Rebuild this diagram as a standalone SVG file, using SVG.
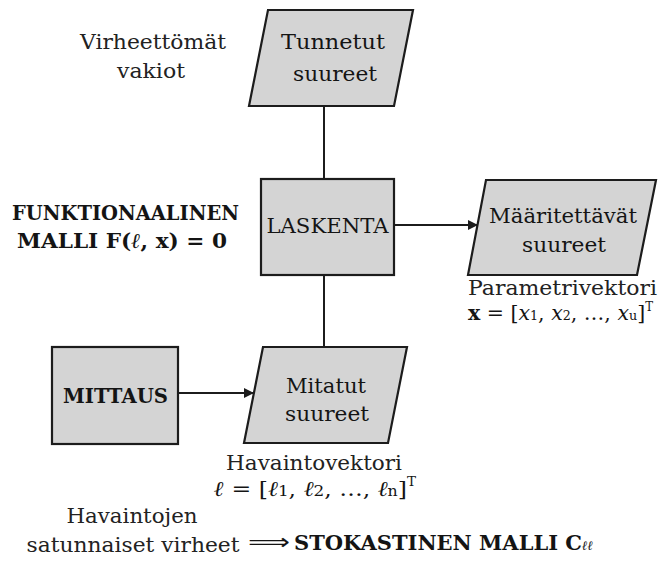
<svg xmlns="http://www.w3.org/2000/svg" width="660" height="565" viewBox="0 0 660 565">
<defs>
<style>
.shape{fill:#d4d4d4;stroke:#1c1c1c;stroke-width:2.2}
.conn{stroke:#1c1c1c;stroke-width:2;fill:none}
text{font-family:"DejaVu Serif","Liberation Serif",serif;font-size:21px;fill:#141414}
.c{text-anchor:middle}
.b{font-weight:bold}
.lab{fill:#222222}
</style>
<marker id="ah" viewBox="0 0 10 10" refX="10" refY="5" markerWidth="10" markerHeight="10" markerUnits="userSpaceOnUse" orient="auto">
<path d="M0,0 L10,5 L0,10 z" fill="#1c1c1c"/>
</marker>
</defs>
<rect width="660" height="565" fill="#ffffff"/>

<g id="connectors">
<line class="conn" x1="324" y1="106" x2="324" y2="179"/>
<line class="conn" x1="324" y1="275" x2="324" y2="347"/>
<line class="conn" x1="394" y1="225" x2="478" y2="225" marker-end="url(#ah)"/>
<line class="conn" x1="178" y1="393" x2="254" y2="393" marker-end="url(#ah)"/>
</g>

<g id="tunnetut">
<polygon class="shape" points="268,10 413,10 394,106 249,106"/>
<text class="c" x="333" y="49" textLength="104" lengthAdjust="spacingAndGlyphs">Tunnetut</text>
<text class="c" x="335" y="81" textLength="84" lengthAdjust="spacingAndGlyphs">suureet</text>
</g>

<g id="laskenta">
<rect class="shape" x="261" y="179" width="133" height="96"/>
<text class="c" x="327.5" y="233" textLength="122" lengthAdjust="spacingAndGlyphs">LASKENTA</text>
</g>

<g id="maaritettavat">
<polygon class="shape" points="486,180 656,180 637,275 468,275"/>
<text class="c" x="563" y="223" textLength="148" lengthAdjust="spacingAndGlyphs">Määritettävät</text>
<text class="c" x="564" y="252" textLength="84" lengthAdjust="spacingAndGlyphs">suureet</text>
</g>

<g id="mittaus">
<rect class="shape" x="52" y="347" width="126" height="97"/>
<text class="c b" x="115.5" y="403" textLength="105" lengthAdjust="spacingAndGlyphs">MITTAUS</text>
</g>

<g id="mitatut">
<polygon class="shape" points="263,347 407,347 388,443 244,443"/>
<text class="c" x="326" y="393" textLength="80" lengthAdjust="spacingAndGlyphs">Mitatut</text>
<text class="c" x="327" y="421" textLength="84" lengthAdjust="spacingAndGlyphs">suureet</text>
</g>

<g id="labels">
<text class="c lab" x="153" y="49" textLength="146" lengthAdjust="spacingAndGlyphs">Virheettömät</text>
<text class="c lab" x="151" y="78" textLength="68" lengthAdjust="spacingAndGlyphs">vakiot</text>

<text class="c b" x="125.5" y="220" textLength="227" lengthAdjust="spacingAndGlyphs">FUNKTIONAALINEN</text>
<text class="b" x="17" y="248" textLength="210" lengthAdjust="spacingAndGlyphs">MALLI  F(<tspan font-style="italic">ℓ</tspan>, x) = 0</text>

<text class="lab" x="468" y="295" textLength="189" lengthAdjust="spacingAndGlyphs">Parametrivektori</text>
<text x="468" y="320" font-size="20" textLength="185" lengthAdjust="spacingAndGlyphs"><tspan class="b">x</tspan> = [<tspan font-style="italic">x</tspan><tspan font-size="13">1</tspan>, <tspan font-style="italic">x</tspan><tspan font-size="13">2</tspan>, …, <tspan font-style="italic">x</tspan><tspan font-size="13">u</tspan>]<tspan font-size="12" dy="-9">T</tspan></text>

<text class="c lab" x="314" y="470" textLength="176" lengthAdjust="spacingAndGlyphs">Havaintovektori</text>
<text x="214" y="496" font-size="22" textLength="202" lengthAdjust="spacingAndGlyphs"><tspan class="b" font-style="italic">ℓ</tspan> = [<tspan font-style="italic">ℓ</tspan><tspan font-size="15">1</tspan>, <tspan font-style="italic">ℓ</tspan><tspan font-size="15">2</tspan>, …, <tspan font-style="italic">ℓ</tspan><tspan font-size="14">n</tspan>]<tspan font-size="12" dy="-10">T</tspan></text>

<text class="c lab" x="132" y="523" textLength="131" lengthAdjust="spacingAndGlyphs">Havaintojen</text>
<text class="c lab" x="133" y="552" textLength="213" lengthAdjust="spacingAndGlyphs">satunnaiset virheet</text>
<text x="248" y="549" style="font-family:'DejaVu Sans',sans-serif" textLength="42" lengthAdjust="spacingAndGlyphs">⟹</text>
<text class="b" x="294" y="550">STOKASTINEN MALLI  C<tspan font-size="13" font-style="italic">ℓℓ</tspan></text>
</g>
</svg>
